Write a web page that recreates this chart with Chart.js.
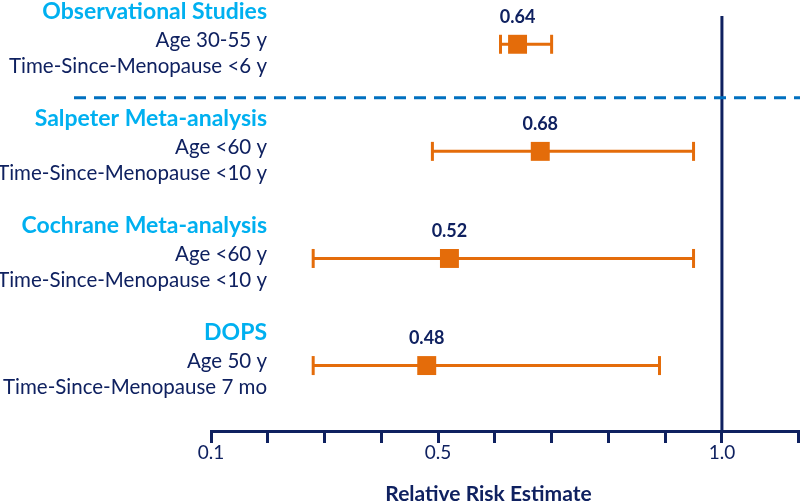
<!DOCTYPE html>
<html><head><meta charset="utf-8">
<script src="https://cdn.jsdelivr.net/npm/chart.js@4"></script>
<style>html,body{margin:0;padding:0;background:#fff;overflow:hidden}canvas{display:block}</style>
</head><body><canvas id="c" width="800" height="503" style="width:800px;height:503px"></canvas>
<script>
// ---- data ----
const studies = ['Observational Studies', 'Salpeter Meta-analysis', 'Cochrane Meta-analysis', 'DOPS'];
const ageLines = ['Age 30-55 y', 'Age <60 y', 'Age <60 y', 'Age 50 y'];
const timeLines = ['Time-Since-Menopause <6 y', 'Time-Since-Menopause <10 y', 'Time-Since-Menopause <10 y', 'Time-Since-Menopause 7 mo'];
const estimates = [0.64, 0.68, 0.52, 0.48];
const lowerCI = [0.61, 0.49, 0.28, 0.28];
const upperCI = [0.70, 0.95, 0.95, 0.89];
const tickValues = [0.1, 0.2, 0.3, 0.4, 0.5, 0.6, 0.7, 0.8, 0.9, 1.0];
const tickLabels = ['0.1', '0.5', '1.0'];
const referenceValue = 1.0;
const axisMin = 0.1;
const axisMax = 1.134;
const xTitle = 'Relative Risk Estimate';

// ---- styles ----
const NAVY = '#0f2160';
const ORANGE = '#e46c0a';
const CYAN = '#00b0f0';
const DASH_BLUE = '#0070c0';
const FONT = 'Lato';
const Y_MIN = -0.264, Y_MAX = 3.611;

const estimateDataset = {
  label: 'estimate',
  data: estimates.map((v, i) => ({x: v, y: i})),
  showLine: false,
  pointStyle: 'rect',
  pointRadius: 13.4,
  pointHoverRadius: 13.4,
  pointBackgroundColor: ORANGE,
  pointBorderColor: ORANGE,
  pointBorderWidth: 0,
  order: 0
};
const ciDatasets = estimates.map((v, i) => ({
  label: 'ci' + i,
  data: [{x: lowerCI[i], y: i}, {x: upperCI[i], y: i}],
  showLine: true,
  borderColor: ORANGE,
  borderWidth: 3,
  pointStyle: 'line',
  rotation: 90,
  pointRadius: 9.5,
  pointHoverRadius: 9.5,
  pointBorderColor: ORANGE,
  pointBorderWidth: 3,
  order: 1
}));
const refDataset = {
  label: 'ref',
  data: [{x: referenceValue, y: Y_MIN}, {x: referenceValue, y: Y_MAX}],
  showLine: true,
  borderColor: NAVY,
  borderWidth: 3,
  pointRadius: 0,
  order: 2
};

const textPlugin = {
  id: 'forestText',
  afterDatasetsDraw(chart) {
    const ctx = chart.ctx;
    const xs = chart.scales.x, ys = chart.scales.y;
    ctx.save();
    // separator between observational and trial groups
    const sy = ys.getPixelForValue(0.5);
    ctx.strokeStyle = DASH_BLUE;
    ctx.lineWidth = 3;
    ctx.setLineDash([12, 8]);
    ctx.beginPath();
    ctx.moveTo(74, sy);
    ctx.lineTo(chart.width, sy);
    ctx.stroke();
    ctx.setLineDash([]);
    // value labels above markers
    ctx.fillStyle = NAVY;
    ctx.font = 'bold 18px ' + FONT;
    ctx.textAlign = 'center';
    ctx.textBaseline = 'middle';
    estimates.forEach((v, i) => {
      ctx.fillText(v.toFixed(2), xs.getPixelForValue(v), ys.getPixelForValue(i) - 27);
    });
    // x-axis title
    ctx.font = 'bold 21px ' + FONT;
    ctx.fillText(xTitle, (xs.left + xs.right) / 2 - 16, 494);
    // row labels on the left
    ctx.textAlign = 'right';
    ctx.textBaseline = 'alphabetic';
    const rx = 267;
    studies.forEach((s, i) => {
      const y = ys.getPixelForValue(i);
      ctx.fillStyle = CYAN;
      ctx.font = 'bold 23px ' + FONT;
      ctx.fillText(s, rx, y - 25.5);
      ctx.fillStyle = NAVY;
      ctx.font = '20.5px ' + FONT;
      ctx.fillText(ageLines[i], rx, y + 2.5);
      ctx.fillText(timeLines[i], rx, y + 28.5);
    });
    ctx.restore();
  }
};

new Chart(document.getElementById('c'), {
  type: 'scatter',
  data: {datasets: [estimateDataset, ...ciDatasets, refDataset]},
  options: {
    responsive: false,
    animation: false,
    layout: {autoPadding: false, padding: {left: 211, right: 2, top: 16, bottom: 41.2}},
    plugins: {legend: {display: false}, tooltip: {enabled: false}},
    scales: {
      x: {
        type: 'linear',
        min: axisMin,
        max: axisMax,
        afterBuildTicks: (scale) => {
          scale.ticks = [...tickValues, axisMax].map(v => ({value: v}));
        },
        ticks: {
          autoSkip: false,
          maxRotation: 0,
          padding: -2,
          color: NAVY,
          font: {family: FONT, size: 19},
          callback: (value) => {
            const m = tickLabels.find(t => Math.abs(parseFloat(t) - value) < 1e-6);
            return m === undefined ? '' : m;
          }
        },
        grid: {display: true, drawOnChartArea: false, drawTicks: true, tickLength: 12, color: NAVY, lineWidth: 3},
        border: {display: true, color: NAVY, width: 3},
        title: {display: false, text: xTitle}
      },
      y: {type: 'linear', reverse: true, min: Y_MIN, max: Y_MAX, display: false}
    }
  },
  plugins: [textPlugin]
});
</script></body></html>
